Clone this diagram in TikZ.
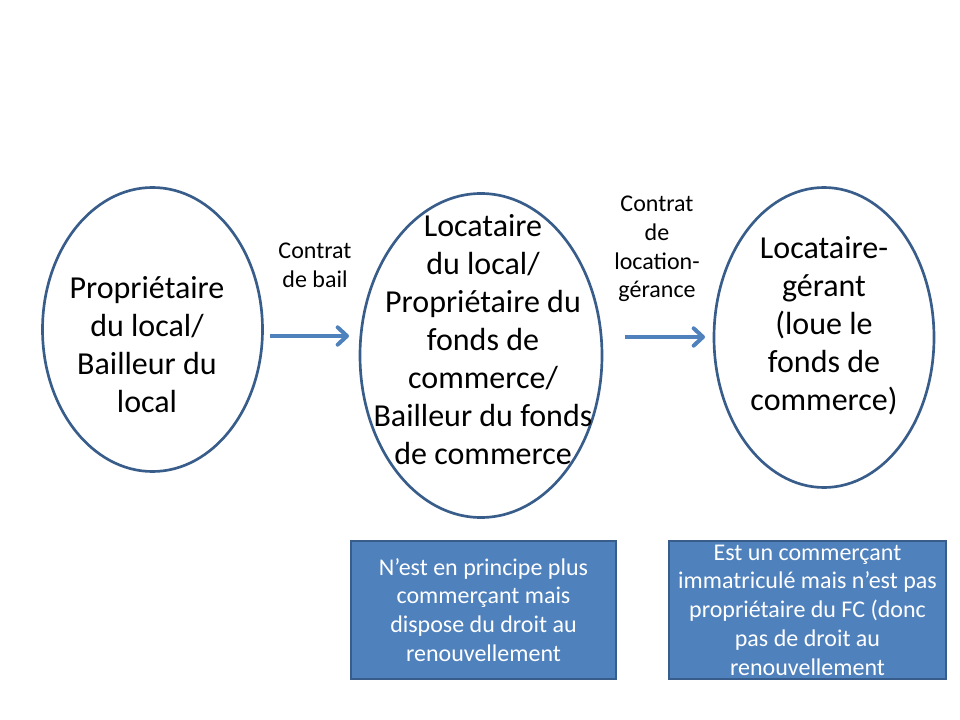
\documentclass[tikz,border=0pt]{standalone}
\usepackage{fontspec}
\setmainfont{Carlito}
\usetikzlibrary{shapes.geometric,arrows.meta}
\definecolor{edark}{HTML}{385D8A}
\definecolor{eblue}{HTML}{4F81BD}
\tikzset{
  oval/.style={ellipse,draw=edark,line width=2pt,inner sep=0pt},
  bigtxt/.style={align=center,font=\fontsize{24}{28.5}\selectfont,inner sep=0pt},
  smalltxt/.style={align=center,font=\fontsize{18}{21.6}\selectfont,inner sep=0pt},
  infobox/.style={draw=edark,line width=1.5pt,fill=eblue,text=white,inner sep=0pt,align=center,font=\fontsize{18}{21.6}\selectfont},
  flow/.style={draw=eblue,line width=3pt,-{Straight Barb[length=7pt,width=13pt,round]}}
}
\begin{document}
\begin{tikzpicture}[x=0.75pt,y=-0.75pt]
\useasboundingbox (0,0) rectangle (960,720);
% ellipses
\node[oval,minimum width=220*0.75pt,minimum height=284*0.75pt] (e1) at (152.5,329.5) {};
\node[oval,minimum width=242*0.75pt,minimum height=324*0.75pt] (e2) at (481,355.5) {};
\node[oval,minimum width=220*0.75pt,minimum height=300*0.75pt] (e3) at (824,337.5) {};
% ellipse texts
\node[bigtxt] (t1) at (147,345) {Propriétaire\\du local/\\Bailleur du\\local};
\node[bigtxt] (t2) at (483,340) {Locataire\\du local/\\Propriétaire du\\fonds de\\commerce/\\Bailleur du fonds\\de commerce};
\node[bigtxt] (t3) at (824,326) {Locataire-\\gérant\\(loue le\\fonds de\\commerce)};
% labels
\node[smalltxt] (l1) at (315,265) {Contrat\\de bail};
\node[smalltxt] (l2) at (657,249) {Contrat\\de\\location-\\gérance};
% arrows
\coordinate (a1s) at (270,336);
\coordinate (a1e) at (349,336);
\coordinate (a2s) at (625,337);
\coordinate (a2e) at (705,337);
\draw[flow] (a1s) -- (a1e);
\draw[flow] (a2s) -- (a2e);
% boxes
\node[infobox,minimum width=265*0.75pt,minimum height=138*0.75pt] (b1) at (483.5,610) {N’est en principe plus\\commerçant mais\\dispose du droit au\\renouvellement};
\node[infobox,minimum width=277*0.75pt,minimum height=138*0.75pt] (b2) at (807.5,610) {Est un commerçant\\immatriculé mais n’est pas\\propriétaire du FC (donc\\pas de droit au\\renouvellement};
\end{tikzpicture}
\end{document}
